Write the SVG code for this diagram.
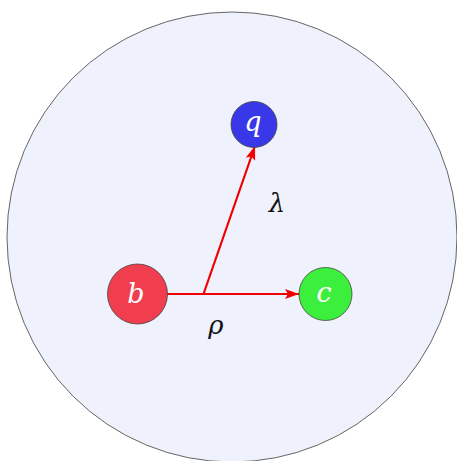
<svg xmlns="http://www.w3.org/2000/svg" width="457" height="461" viewBox="0 0 457 461">
<defs>
<style>
.node{stroke:#444;stroke-width:0.8}
.lbl{font-family:'DejaVu Serif',serif;font-style:italic;fill:#fff;font-size:27px;text-anchor:middle}
.elbl{font-family:'DejaVu Serif',serif;font-style:italic;fill:#111;font-size:26px;text-anchor:middle}
.edge{stroke:#f00000;stroke-width:2.2;fill:none}
</style>
<marker id="ah" viewBox="0 0 14 10" refX="14" refY="5" markerWidth="14" markerHeight="10" markerUnits="userSpaceOnUse" orient="auto">
<path d="M0,0 L14,5 L0,10 L3,5 z" fill="#f00000"/>
</marker>
</defs>
<rect width="457" height="461" fill="#fff"/>
<circle cx="232" cy="237" r="225" fill="#eff1fc" stroke="#555" stroke-width="0.9"/>
<g id="edges">
<line class="edge" x1="167" y1="294" x2="299" y2="294" marker-end="url(#ah)"/>
<line class="edge" x1="203.5" y1="294" x2="255" y2="146" marker-end="url(#ah)"/>
<text class="elbl" x="277" y="212">λ</text>
<text class="elbl" x="216" y="334">ρ</text>
</g>
<g id="b">
<circle class="node" cx="137.5" cy="294" r="30" fill="#f03e4e"/>
<text class="lbl" x="136" y="303">b</text>
</g>
<g id="q">
<circle class="node" cx="254" cy="124.5" r="23" fill="#3838e8"/>
<text class="lbl" x="253" y="131">q</text>
</g>
<g id="c">
<circle class="node" cx="325.5" cy="294" r="26.5" fill="#3cef3c"/>
<text class="lbl" x="324" y="302">c</text>
</g>
</svg>
